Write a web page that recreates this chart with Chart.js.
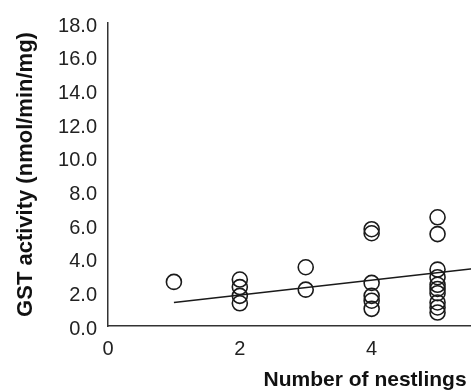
<!DOCTYPE html>
<html>
<head>
<meta charset="utf-8">
<script src="https://cdn.jsdelivr.net/npm/chart.js@4/dist/chart.umd.min.js"></script>
<style>
  html, body { margin: 0; padding: 0; overflow: hidden; background: #fff; }
  #wrap { width: 647px; height: 391px; }
</style>
</head>
<body>
<div id="wrap"><canvas id="chart" width="647" height="391"></canvas></div>
<script>
// number of nestlings per nest and the GST activity
const nestlings = [1, 2, 2, 2, 2, 3, 3, 4, 4, 4, 4, 4, 4, 5, 5, 5, 5, 5, 5, 5, 5, 5, 5]
const gstActivity = [
  2.62, 2.76, 2.31, 1.79, 1.35, 3.49, 2.16,
  5.75, 5.51, 2.56, 1.79, 1.5, 1.02,
  6.46, 5.46, 3.35, 2.9, 2.45, 2.2, 1.95, 1.4, 1.1, 0.8
]
// linear trend line end points
const trendX = [1, 6]
const trendY = [1.39, 3.61]
const yTicks = [0, 2, 4, 6, 8, 10, 12, 14, 16, 18]

const ink = '#1a1a1a'
const family = "'Liberation Sans', Arial, sans-serif"

const points = nestlings.map((x, i) => ({ x, y: gstActivity[i] }))
const trend = trendX.map((x, i) => ({ x, y: trendY[i] }))

new Chart(document.getElementById('chart'), {
  type: 'scatter',
  data: {
    datasets: [
      {
        data: points,
        pointRadius: 7.5,
        pointHoverRadius: 7.5,
        pointBorderWidth: 1.6,
        borderColor: ink,
        backgroundColor: 'rgba(0,0,0,0)'
      },
      {
        type: 'line',
        data: trend,
        borderColor: ink,
        borderWidth: 1.5,
        pointRadius: 0,
        fill: false
      }
    ]
  },
  options: {
    responsive: false,
    animation: false,
    layout: { padding: { top: 16, right: 18, bottom: 0, left: 0 } },
    plugins: { legend: { display: false }, tooltip: { enabled: false } },
    scales: {
      x: {
        type: 'linear',
        min: 0,
        max: 7.8,
        grid: { display: false, drawTicks: false },
        border: { display: true, color: '#333', width: 1.5 },
        ticks: {
          stepSize: 2,
          maxRotation: 0,
          padding: 11,
          color: '#222',
          font: { family, size: 20 }
        },
        title: {
          display: true,
          text: 'Number of nestlings',
          color: '#111',
          font: { family, size: 21, weight: 'bold', lineHeight: 1 },
          padding: { top: 0, bottom: 0 }
        },
        afterFit: s => { s.height = 65 }
      },
      y: {
        min: 0,
        max: 18,
        grid: { display: false, drawTicks: false },
        border: { display: true, color: '#333', width: 1.5 },
        afterBuildTicks: s => { s.ticks = yTicks.map(value => ({ value })) },
        ticks: {
          padding: 11,
          labelOffset: 3,
          color: '#222',
          font: { family, size: 20 },
          callback: v => v.toFixed(1)
        },
        title: {
          display: true,
          text: 'GST activity (nmol/min/mg)',
          color: '#111',
          font: { family, size: 22, weight: 'bold', lineHeight: 1.2 },
          padding: { top: 13, bottom: 0 }
        },
        afterFit: s => { s.width = 108 }
      }
    }
  }
})
</script>
</body>
</html>
